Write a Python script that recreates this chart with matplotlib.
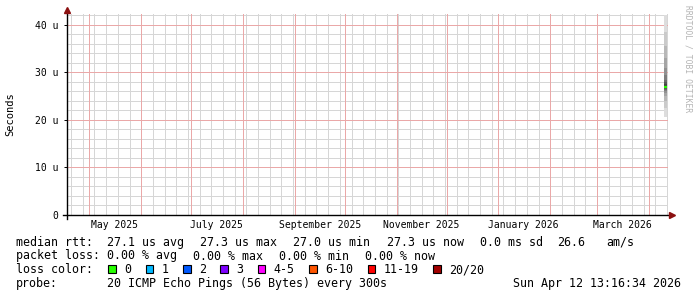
import datetime as dt
import matplotlib
matplotlib.use("Agg")
import matplotlib.pyplot as plt
import matplotlib.dates as mdates
import matplotlib.transforms as mtransforms
from matplotlib.patches import Rectangle

# ---- data ----
end_time = dt.datetime(2026, 4, 12, 13, 16, 34)
start_time = end_time - dt.timedelta(days=360)

month_labels = ["May 2025", "July 2025", "September 2025",
                "November 2025", "January 2026", "March 2026"]
label_months = [(2025, 5), (2025, 7), (2025, 9), (2025, 11), (2026, 1), (2026, 3)]

# the 20 sorted pings of the single smoke sample (microseconds)
pings = [20.6, 22.5, 24.0, 25.0, 25.6, 26.0, 26.3, 26.6, 26.8, 27.0,
         27.2, 27.5, 27.9, 28.5, 29.5, 31.0, 33.0, 35.5, 38.5, 42.1]
median_rtt = 27.0
smoke_start = end_time - dt.timedelta(days=2.3)
smoke_end = end_time - dt.timedelta(days=0.8)

y_major = [0, 10, 20, 30, 40]
y_labels = ["0", "10 u", "20 u", "30 u", "40 u"]
y_minor = [2, 4, 6, 8, 12, 14, 16, 18, 22, 24, 26, 28, 32, 34, 36, 38, 42]

loss_labels = ["0", "1", "2", "3", "4-5", "6-10", "11-19", "20/20"]
loss_colors = ["#26ff00", "#00b8ff", "#0059ff", "#7e00ff",
               "#ff00ff", "#ff5500", "#ff0000", "#a10000"]

# ---- figure ----
W, H = 697, 297
fig = plt.figure(figsize=(W / 100, H / 100), dpi=100)
fig.patch.set_facecolor("white")
mono = "DejaVu Sans Mono"

L, R, T, B = 67, 668, 14, 215
ax = fig.add_axes([L / W, 1 - B / H, (R - L) / W, (B - T) / H])
ax.set_xlim(mdates.date2num(start_time), mdates.date2num(end_time))
ax.set_ylim(0, 42.3)

months = []
y, m = 2025, 5
while dt.datetime(y, m, 1) < end_time:
    months.append(dt.datetime(y, m, 1))
    m += 1
    if m > 12:
        y, m = y + 1, 1
sundays = []
d = dt.datetime(2025, 4, 20)
while d < end_time:
    sundays.append(d)
    d += dt.timedelta(days=7)

ax.set_xticks([])
ax.set_yticks(y_major)
ax.set_yticklabels(y_labels, fontfamily=mono, fontsize=7)
ax.tick_params(axis="y", which="major", length=2, width=0.7, pad=4)

# grid: minor grey (weeks / 2u), major pink (months / 10u)
minor_c, major_c = "#d6d6d6", "#eaa8a8"
for d in sundays:
    ax.axvline(mdates.date2num(d), color=minor_c, lw=0.72, zorder=1)
for v in y_minor:
    ax.axhline(v, color=minor_c, lw=0.72, zorder=1)
for d in months:
    ax.axvline(mdates.date2num(d), color=major_c, lw=0.72, zorder=1.5)
for v in y_major[1:]:
    ax.axhline(v, color=major_c, lw=0.72, zorder=1.5)

for s in ax.spines.values():
    s.set_visible(False)

# smoke: pairs of pings, outer light to inner dark
half = len(pings) // 2
xs = mdates.date2num([smoke_start, smoke_end])
for i in range(half):
    g = int(190 / half * (half - 1 - i)) + 50
    col = "#%02x%02x%02x" % (g, g, g)
    ax.fill_between(xs, pings[i], pings[-1 - i], color=col, linewidth=0, zorder=3)
ax.plot(xs, [median_rtt, median_rtt], color=loss_colors[0], lw=1.6, zorder=4,
        solid_capstyle="butt")

# axis lines with arrows
axc = "#8b1010"
ax.plot([0, 0], [-4 / 201, 1.01], transform=ax.transAxes, color="black",
        lw=1, clip_on=False, zorder=5)
ax.plot([-4 / 601, 1.004], [0, 0], transform=ax.transAxes, color="black",
        lw=1, clip_on=False, zorder=5)
ax.plot([0], [1.022], marker="^", ms=4, color=axc, transform=ax.transAxes,
        clip_on=False, zorder=6)
ax.plot([1.007], [0], marker=">", ms=4, color=axc, transform=ax.transAxes,
        clip_on=False, zorder=6)

# month labels centred mid-month
tr = mtransforms.blended_transform_factory(ax.transData, fig.transFigure)
for (yy, mm), lab in zip(label_months, month_labels):
    ax.text(mdates.date2num(dt.datetime(yy, mm, 16)), 1 - 228 / H, lab,
            transform=tr, ha="center", va="baseline", fontfamily=mono,
            fontsize=7, color="black")

fig.text(10 / W, 1 - 114 / H, "Seconds", rotation=90, ha="center", va="center",
         fontfamily=mono, fontsize=7.5)
fig.text(688 / W, 1 - 5 / H, "RRDTOOL / TOBI OETIKER", rotation=270,
         ha="center", va="top", fontfamily=mono, fontsize=5.8, color="#b4b4b4")


def put(x, base, s):
    fig.text(x / W, 1 - base / H, s, ha="left", va="baseline",
             fontfamily=mono, fontsize=8.4, color="black")


# legend lines
b1, b2, b3, b4 = 245.6, 259.5, 273.3, 287.3
put(16, b1, "median rtt:")
for x, s in [(107.3, "27.1 us avg"), (200, "27.3 us max"), (293.3, "27.0 us min"),
             (386.7, "27.3 us now"), (480, "0.0 ms sd"), (557.3, "26.6"),
             (606.7, "am/s")]:
    put(x, b1, s)

put(16, b2, "packet loss:")
for x, s in [(107.3, "0.00 % avg"), (193.3, "0.00 % max"), (279.3, "0.00 % min"),
             (365, "0.00 % now")]:
    put(x, b2, s)

put(16, b3, "loss color:")
bx = 108.3
for lab, col in zip(loss_labels, loss_colors):
    fig.patches.append(Rectangle((bx / W, 1 - 272.7 / H), 7.5 / W, 8 / H,
                                 transform=fig.transFigure, facecolor=col,
                                 edgecolor="black", linewidth=0.8))
    put(bx + 15.7, b3, lab)
    bx = bx + 15.7 + 7 * len(lab) + 14.7

put(16, b4, "probe:")
put(107.3, b4, "20 ICMP Echo Pings (56 Bytes) every 300s")
put(513.3, b4, "Sun Apr 12 13:16:34 2026")

fig.savefig("out.png", dpi=100, facecolor="white")
